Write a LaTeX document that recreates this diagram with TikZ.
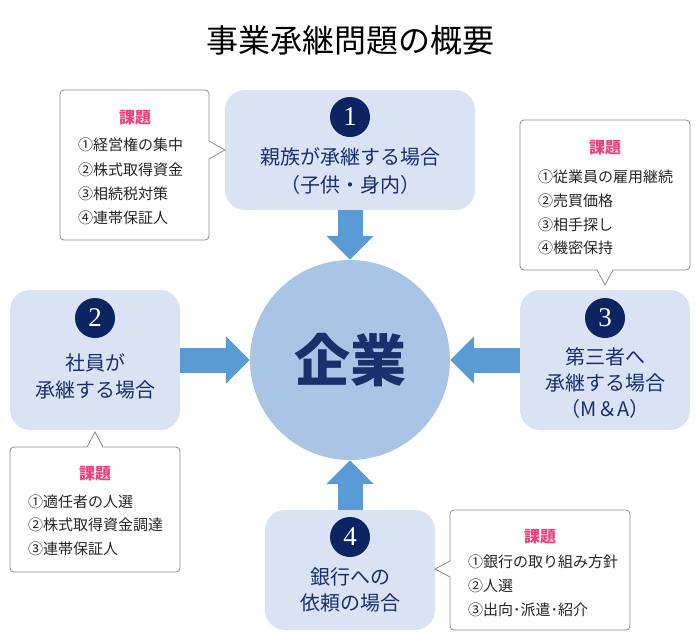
\documentclass[tikz,border=0pt]{standalone}
\usepackage{fontspec}
\setmainfont{Noto Sans CJK JP}
\newfontfamily\numfont{Liberation Serif}
\usetikzlibrary{arrows.meta}
\definecolor{boxfill}{HTML}{DAE3F3}
\definecolor{circfill}{HTML}{A9C4E4}
\definecolor{arrowblue}{HTML}{5B9BD5}
\definecolor{numnavy}{HTML}{0C2461}
\definecolor{navytext}{HTML}{1B2F6B}
\definecolor{pinkred}{HTML}{F0407A}
\definecolor{calloutgray}{HTML}{8C8C8C}
\begin{document}
\begin{tikzpicture}[x=1pt,y=-1pt,
  casebox/.style={fill=boxfill, rounded corners=20pt, inner sep=0pt, draw=none},
  numdisc/.style={circle, fill=numnavy, minimum size=40pt, inner sep=0pt, text=white, font=\numfont\fontsize{27}{27}\selectfont},
  casetext/.style={align=center, text=navytext, inner sep=0pt},
  callbox/.style={draw=calloutgray, line width=0.8pt, fill=white, rounded corners=4pt, inner sep=0pt},
  kadai/.style={text=pinkred, font=\bfseries\fontsize{16}{16}\selectfont, inner sep=0pt},
  items/.style={align=left, anchor=west, inner sep=0pt, text=black!85},
  bigarrow/.style={arrowblue, line width=25pt, -{Triangle[width=46pt,length=24pt]}},
  pointer/.style={draw=calloutgray, line width=0.8pt}
]
\useasboundingbox (0,0) rectangle (700,640);

% title
\node[font=\fontsize{32}{32}\selectfont, inner sep=0pt] (title) at (350,40) {事業承継問題の概要};

% center
\node[circle, fill=circfill, minimum size=200pt, inner sep=0pt, text=navytext, font=\bfseries\fontsize{56}{56}\selectfont] (ent) at (350,360) {企業};

% case boxes
\node[casebox, minimum width=250pt, minimum height=120pt] (b1) at (350,150) {};
\node[numdisc] (n1) at (350,117) {1};
\node[casetext, font=\fontsize{20}{28}\selectfont] (t1) at (350,171) {親族が承継する場合\\（子供・身内）};

\node[casebox, minimum width=170pt, minimum height=140pt] (b2) at (95,360) {};
\node[numdisc] (n2) at (95,318) {2};
\node[casetext, font=\fontsize{20}{27}\selectfont] (t2) at (95,376) {社員が\\承継する場合};

\node[casebox, minimum width=170pt, minimum height=140pt] (b3) at (605,360) {};
\node[numdisc] (n3) at (605,318) {3};
\node[casetext, font=\fontsize{20}{26}\selectfont] (t3) at (605,383) {第三者へ\\承継する場合\\（M＆A）};

\node[casebox, minimum width=170pt, minimum height=120pt] (b4) at (350,570) {};
\node[numdisc] (n4) at (350,537) {4};
\node[casetext, font=\fontsize{20}{26}\selectfont] (t4) at (350,590) {銀行への\\依頼の場合};

% arrows
\draw[bigarrow] (b1.south) -- (ent.north);
\draw[bigarrow] (b2.east) -- (ent.west);
\draw[bigarrow] (b3.west) -- (ent.east);
\draw[bigarrow] (b4.north) -- (ent.south);

% callout 1
\node[callbox, minimum width=149pt, minimum height=150pt] (c1) at (134.5,165) {};
\fill[white] (208,141) -- (225,150) -- (208,159) -- cycle;
\draw[pointer] (209,141) -- (225,150) -- (209,159);
\node[kadai] (k1) at (135,118) {課題};
\node[items, font=\fontsize{15}{24.3}\selectfont] (i1) at (78,181.5) {①経営権の集中\\②株式取得資金\\③相続税対策\\④連帯保証人};

% callout 3
\node[callbox, minimum width=170pt, minimum height=150pt] (c3) at (605,195) {};
\fill[white] (597,269) -- (605,285) -- (613,269) -- cycle;
\draw[pointer] (597,270) -- (605,285) -- (613,270);
\node[kadai] (k3) at (605,148) {課題};
\node[items, font=\fontsize{15}{23.7}\selectfont] (i3) at (538,212.5) {①従業員の雇用継続\\②売買価格\\③相手探し\\④機密保持};

% callout 2
\node[callbox, minimum width=170pt, minimum height=125pt] (c2) at (95,509.5) {};
\fill[white] (87,448) -- (95,432) -- (103,448) -- cycle;
\draw[pointer] (87,447) -- (95,432) -- (103,447);
\node[kadai] (k2) at (95,474) {課題};
\node[items, font=\fontsize{15}{23.5}\selectfont] (i2) at (28,525) {①適任者の人選\\②株式取得資金調達\\③連帯保証人};

% callout 4
\node[callbox, minimum width=180pt, minimum height=120pt] (c4) at (540,570) {};
\fill[white] (451,561) -- (435,569) -- (451,577) -- cycle;
\draw[pointer] (450,561) -- (435,569) -- (450,577);
\node[kadai] (k4) at (540,537) {課題};
\node[items, font=\fontsize{15}{24}\selectfont] (i4) at (468,586) {①銀行の取り組み方針\\②人選\\③出向･派遣･紹介};
\end{tikzpicture}
\end{document}
